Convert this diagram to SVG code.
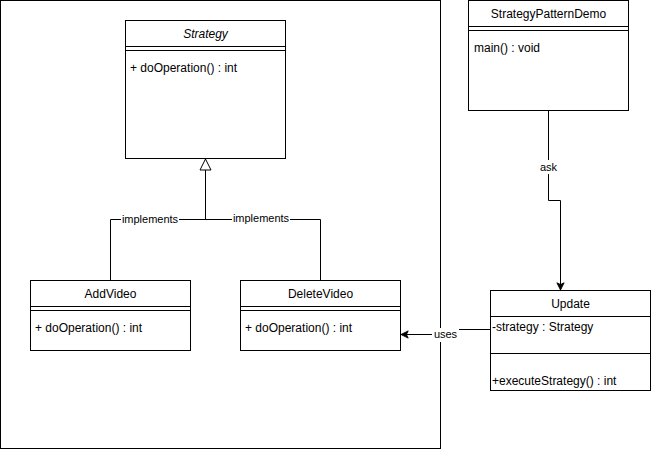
<svg xmlns="http://www.w3.org/2000/svg" width="651" height="452" viewBox="0 0 651 452">
<style>
.box{fill:#fff;stroke:#000;stroke-width:1}
.ln{fill:none;stroke:#000;stroke-width:1}
text{font-family:"Liberation Sans",Arial,sans-serif;font-size:12px;fill:#000}
.t{text-anchor:middle}
.lbl{font-size:11px;text-anchor:middle}
.lb{fill:#fff;stroke:none}
</style>
<defs>
<marker id="arr" viewBox="0 0 10 10" refX="9" refY="5" markerWidth="9" markerHeight="9" markerUnits="userSpaceOnUse" orient="auto">
<path d="M9 5 L1 1 L3 5 L1 9 Z" fill="#000" stroke="#000" stroke-width="1"/>
</marker>
<marker id="tri" viewBox="0 0 14 14" refX="13" refY="7" markerWidth="14" markerHeight="14" markerUnits="userSpaceOnUse" orient="auto">
<path d="M13 7 L2 1.5 L2 12.5 Z" fill="#fff" stroke="#000" stroke-width="1"/>
</marker>
</defs>
<g id="frame">
<rect class="ln" x="0.5" y="0.5" width="440" height="448"/>
</g>
<g id="connectors">
<path class="ln" d="M110.5 280 V219.5 H320.5 V280"/>
<path class="ln" d="M205.5 219.5 V159" marker-end="url(#tri)"/>
<rect class="lb" x="121" y="212" width="58" height="14"/>
<text class="lbl" x="150" y="223">implements</text>
<rect class="lb" x="232" y="212" width="58" height="14"/>
<text class="lbl" x="261" y="222">implements</text>
<path class="ln" d="M548.5 110 V200.5 H560.5 V290" marker-end="url(#arr)"/>
<rect class="lb" x="537" y="160" width="23" height="14"/>
<text class="lbl" x="548.5" y="171">ask</text>
<path class="ln" d="M490 329.5 H445.5 V334.5 H401" marker-end="url(#arr)"/>
<rect class="lb" x="432" y="328" width="27" height="14"/>
<text class="lbl" x="445.5" y="338">uses</text>
</g>
<g id="Strategy">
<rect class="box" x="125.5" y="20.5" width="160" height="138"/>
<path class="ln" d="M125.5 46.5 H285.5 M125.5 50.5 H285.5"/>
<text class="t" x="205.5" y="38" font-style="italic">Strategy</text>
<text x="130" y="72">+ doOperation() : int</text>
</g>
<g id="AddVideo">
<rect class="box" x="30.5" y="280.5" width="160" height="70"/>
<path class="ln" d="M30.5 306.5 H190.5 M30.5 310.5 H190.5"/>
<text class="t" x="110.5" y="298">AddVideo</text>
<text x="35" y="332">+ doOperation() : int</text>
</g>
<g id="DeleteVideo">
<rect class="box" x="240.5" y="280.5" width="160" height="70"/>
<path class="ln" d="M240.5 306.5 H400.5 M240.5 310.5 H400.5"/>
<text class="t" x="320.5" y="298">DeleteVideo</text>
<text x="245" y="332">+ doOperation() : int</text>
</g>
<g id="StrategyPatternDemo">
<rect class="box" x="468.5" y="0.5" width="160" height="110"/>
<path class="ln" d="M468.5 26.5 H628.5 M468.5 30.5 H628.5"/>
<text class="t" x="548.5" y="18">StrategyPatternDemo</text>
<text x="474" y="52">main() : void</text>
</g>
<g id="Update">
<rect class="box" x="490.5" y="290.5" width="160" height="100"/>
<path class="ln" d="M490.5 316.5 H650.5 M490.5 353.5 H650.5"/>
<text class="t" x="570.5" y="308">Update</text>
<text x="492" y="331">-strategy : Strategy</text>
<text x="492" y="385">+executeStrategy() : int</text>
</g>
</svg>
